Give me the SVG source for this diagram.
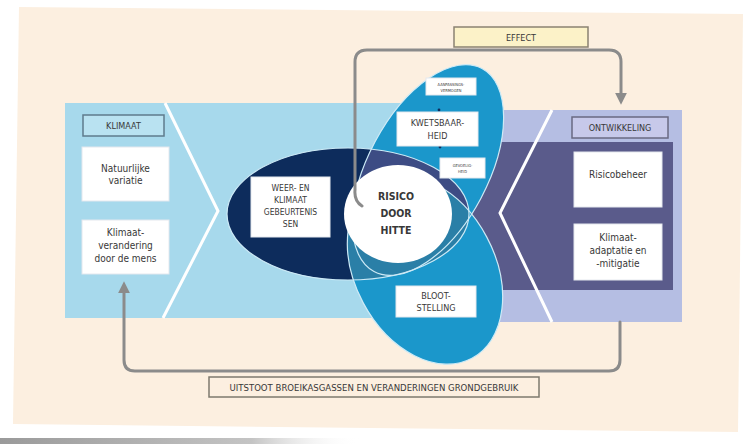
<svg xmlns="http://www.w3.org/2000/svg" width="749" height="444" viewBox="0 0 749 444">
<defs>
<style>
.t{font-family:"Liberation Sans Narrow","DejaVu Sans Condensed","Liberation Sans",sans-serif;fill:#383838;text-anchor:middle}
.box{fill:#ffffff;stroke:#e4e8ee;stroke-width:1}
.conn{fill:none;stroke:#8b8b8b;stroke-width:3;stroke-linecap:round;stroke-linejoin:round}
.edge{fill:none;stroke:#cdeaf6;stroke-width:1.2}
.chev{fill:none;stroke:#ffffff;stroke-width:3}
</style>
<marker id="ah" viewBox="0 0 10 10" refX="6" refY="5" markerWidth="4" markerHeight="4" orient="auto" markerUnits="strokeWidth">
<path d="M0,0 L10,5 L0,10 Z" fill="#8b8b8b"/>
</marker>
<clipPath id="clipA"><ellipse cx="0" cy="0" rx="115" ry="60" transform="translate(428,170) rotate(-62)"/></clipPath>
<clipPath id="clipB"><ellipse cx="0" cy="0" rx="100" ry="70" transform="translate(425,270) rotate(62)"/></clipPath>
<linearGradient id="shadow" x1="0" x2="1" y1="0" y2="0">
<stop offset="0" stop-color="#9a9a9a"/><stop offset="0.7" stop-color="#c4c4c4"/><stop offset="1" stop-color="#ffffff" stop-opacity="0"/>
</linearGradient>
</defs>
<rect x="0" y="0" width="749" height="444" fill="#ffffff"/>
<rect x="0" y="438" width="360" height="6" fill="url(#shadow)"/>
<polygon points="19,7 743,14 738,432 13,424" fill="#fcefe0"/>

<g id="bands">
<rect x="65" y="103" width="437" height="215" fill="#a7d9ec"/>
<rect x="500" y="110" width="182" height="212" fill="#b5bee3"/>
<rect x="465" y="142" width="208" height="148" fill="#5a5b8b"/>
<polyline class="chev" points="165,103 218,211 163,318"/>
<polyline class="chev" points="552,110 500,213 552,322"/>
</g>

<g id="ellipses">
<ellipse cx="348" cy="214" rx="121" ry="66" fill="#0d2c5c"/>
<ellipse cx="0" cy="0" rx="115" ry="60" transform="translate(428,170) rotate(-62)" fill="#1b97cb"/>
<ellipse cx="0" cy="0" rx="100" ry="70" transform="translate(425,270) rotate(62)" fill="#1b97cb"/>
<ellipse cx="348" cy="214" rx="121" ry="66" fill="#3d4c84" clip-path="url(#clipA)"/>
<ellipse cx="348" cy="214" rx="121" ry="66" fill="#2a7fa7" clip-path="url(#clipB)"/>
<ellipse class="edge" cx="348" cy="214" rx="121" ry="66"/>
<ellipse class="edge" cx="0" cy="0" rx="115" ry="60" transform="translate(428,170) rotate(-62)"/>
<ellipse class="edge" cx="0" cy="0" rx="100" ry="70" transform="translate(425,270) rotate(62)"/>
</g>

<g id="risico">
<ellipse cx="398" cy="214" rx="54" ry="49" fill="#ffffff"/>
<text class="t" x="396" y="200" font-size="10.5" font-weight="bold" fill="#2b2b2b">RISICO</text>
<text class="t" x="396" y="217" font-size="10.5" font-weight="bold" fill="#2b2b2b">DOOR</text>
<text class="t" x="396" y="234" font-size="10.5" font-weight="bold" fill="#2b2b2b">HITTE</text>
</g>

<g id="connectors">
<path class="conn" d="M362,206 Q354,201 355,190 L355,62 Q355,50 367,50 L609,50 Q621,50 621,62 L621,100" marker-end="url(#ah)"/>
<path class="conn" d="M620,322 L620,360 Q620,371 609,371 L135,371 Q124,371 124,360 L124,286" marker-end="url(#ah)"/>
</g>

<g id="effect">
<rect x="454" y="27" width="134" height="20" fill="#fcf2c8" stroke="#8a8272" stroke-width="1.5"/>
<text class="t" x="521" y="40.5" font-size="9">EFFECT</text>
</g>

<g id="uitstoot">
<rect x="209" y="377" width="330" height="20" fill="#fcefe0" stroke="#7d7a6e" stroke-width="1.5"/>
<text class="t" x="374" y="390.5" font-size="9.5">UITSTOOT BROEIKASGASSEN EN VERANDERINGEN GRONDGEBRUIK</text>
</g>

<g id="klimaat">
<rect x="83" y="115" width="81" height="21" fill="#b9e2f1" stroke="#5f7b8c" stroke-width="1.5"/>
<text class="t" x="123.5" y="129" font-size="9">KLIMAAT</text>
</g>
<g id="natuurlijke-variatie">
<rect class="box" x="82" y="147" width="87" height="54"/>
<text class="t" x="125.5" y="172" font-size="10">Natuurlijke</text>
<text class="t" x="125.5" y="184" font-size="10">variatie</text>
</g>
<g id="klimaatverandering">
<rect class="box" x="82" y="220" width="87" height="54"/>
<text class="t" x="125.5" y="236" font-size="10">Klimaat-</text>
<text class="t" x="125.5" y="249" font-size="10">verandering</text>
<text class="t" x="125.5" y="262" font-size="10">door de mens</text>
</g>

<g id="ontwikkeling">
<rect x="572" y="117" width="96" height="21" fill="#c7c9ea" stroke="#6a6a82" stroke-width="1.5"/>
<text class="t" x="620" y="131" font-size="9">ONTWIKKELING</text>
</g>
<g id="risicobeheer">
<rect class="box" x="574" y="152" width="88" height="55"/>
<text class="t" x="618" y="178" font-size="10">Risicobeheer</text>
</g>
<g id="adaptatie">
<rect class="box" x="574" y="224" width="88" height="56"/>
<text class="t" x="618" y="241" font-size="10">Klimaat-</text>
<text class="t" x="618" y="254" font-size="10">adaptatie en</text>
<text class="t" x="618" y="267" font-size="10">-mitigatie</text>
</g>

<g id="weer-klimaat">
<rect class="box" x="251" y="177" width="79" height="60"/>
<text class="t" x="290.5" y="191" font-size="8.5">WEER- EN</text>
<text class="t" x="290.5" y="203" font-size="8.5">KLIMAAT</text>
<text class="t" x="290.5" y="215" font-size="8.5">GEBEURTENIS</text>
<text class="t" x="290.5" y="227" font-size="8.5">SEN</text>
</g>

<g id="aanpassingsvermogen">
<rect class="box" x="426" y="78" width="50" height="17"/>
<text class="t" x="451" y="85.5" font-size="4">AANPASSINGS-</text>
<text class="t" x="451" y="91.5" font-size="4">VERMOGEN</text>
</g>
<g id="dots">
<circle cx="439" cy="110" r="1.4" fill="#0d2c5c"/>
<circle cx="440" cy="147" r="1.4" fill="#0d2c5c"/>
</g>
<g id="kwetsbaarheid">
<rect class="box" x="397" y="112" width="81" height="34"/>
<text class="t" x="437.5" y="126" font-size="9">KWETSBAAR-</text>
<text class="t" x="437.5" y="139" font-size="9">HEID</text>
</g>
<g id="gevoeligheid">
<rect class="box" x="440" y="158" width="45" height="20"/>
<text class="t" x="462.5" y="166.5" font-size="4">GEVOELIG-</text>
<text class="t" x="462.5" y="172.5" font-size="4">HEID</text>
</g>
<g id="blootstelling">
<rect class="box" x="396" y="286" width="80" height="31"/>
<text class="t" x="436" y="299" font-size="9">BLOOT-</text>
<text class="t" x="436" y="311" font-size="9">STELLING</text>
</g>
</svg>
